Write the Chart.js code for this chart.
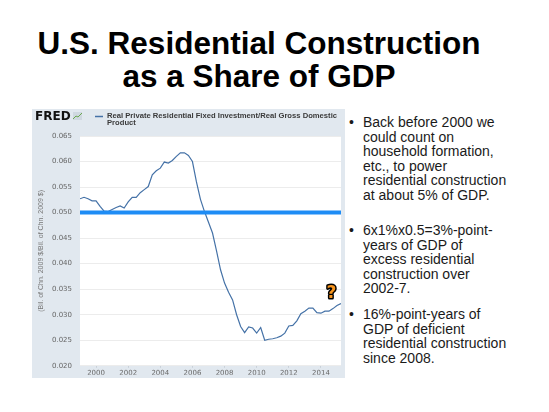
<!DOCTYPE html>
<html>
<head>
<meta charset="utf-8">
<script src="https://cdn.jsdelivr.net/npm/chart.js@4.4.1/dist/chart.umd.min.js"></script>
<style>
  html, body { margin: 0; padding: 0; background: #fff; }
  body { width: 549px; height: 412px; position: relative; overflow: hidden;
         font-family: "Liberation Sans", Arial, Helvetica, sans-serif; }
  .title { position: absolute; left: 0; width: 518px; text-align: center;
           font-weight: bold; font-size: 31.5px; line-height: 33px; color: #000;
           white-space: nowrap; }
  .bullet { position: absolute; left: 349px; font-size: 14px; line-height: 14.6px;
            color: #1a1a1a; white-space: nowrap; }
  .bullet .dot { position: absolute; left: 0; top: 0; }
  .bullet .txt { position: absolute; left: 14px; top: 0; }
  #frame { position: absolute; left: 32px; top: 109px; width: 313px; height: 269px; }
</style>
</head>
<body>
<div class="title" style="top:27px">U.S. Residential Construction</div>
<div class="title" style="top:60px">as a Share of GDP</div>

<div class="bullet" style="top:115px"><span class="dot">•</span><span class="txt">Back before 2000 we<br>could count on<br>household formation,<br>etc., to power<br>residential construction<br>at about 5% of GDP.</span></div>
<div class="bullet" style="top:223px"><span class="dot">•</span><span class="txt">6x1%x0.5=3%-point-<br>years of GDP of<br>excess residential<br>construction over<br>2002-7.</span></div>
<div class="bullet" style="top:307px"><span class="dot">•</span><span class="txt">16%-point-years of<br>GDP of deficient<br>residential construction<br>since 2008.</span></div>

<div id="frame"><canvas id="chart"></canvas></div>

<script>
// Quarterly series, 1999 Q1 .. 2015 Q2
const startYear = 1999;
const share1999to2002 = [0.0527, 0.0530, 0.0527, 0.0523, 0.0523, 0.0512, 0.0503, 0.0502,
                         0.0506, 0.0510, 0.0513, 0.0509, 0.0521, 0.0530, 0.0530, 0.0539];
const share2003to2006 = [0.0545, 0.0551, 0.0574, 0.0582, 0.0587, 0.0599, 0.0597, 0.0602,
                         0.0610, 0.0617, 0.0617, 0.0612, 0.0600, 0.0560, 0.0526, 0.0502];
const share2007to2010 = [0.0481, 0.0460, 0.0425, 0.0388, 0.0362, 0.0344, 0.0329, 0.0300,
                         0.0277, 0.0265, 0.0276, 0.0274, 0.0264, 0.0275, 0.0250, 0.0252];
const share2011to2015 = [0.0253, 0.0255, 0.0258, 0.0264, 0.0278, 0.0279, 0.0288, 0.0302,
                         0.0307, 0.0313, 0.0313, 0.0304, 0.0303, 0.0307, 0.0307, 0.0312,
                         0.0318, 0.0322];
const shareValues = [...share1999to2002, ...share2003to2006, ...share2007to2010, ...share2011to2015];

const benchmarkYears = [1999, 2015.25];
const benchmarkValues = [0.050, 0.050];

const xTickYears = [2000, 2002, 2004, 2006, 2008, 2010, 2012, 2014];
const yTickValues = [0.020, 0.025, 0.030, 0.035, 0.040, 0.045, 0.050, 0.055, 0.060, 0.065];

const seriesLabel = ['Real Private Residential Fixed Investment/Real Gross Domestic', 'Product'];
const yAxisTitle = '(Bil. of Chn. 2009 $/Bil. of Chn. 2009 $)';
const questionMark = { x: 2014.65, y: 0.0342 };

const shareData = shareValues.map((v, i) => ({ x: startYear + i / 4, y: v }));
const benchmarkData = benchmarkYears.map((yr, i) => ({ x: yr, y: benchmarkValues[i] }));

// FRED-style frame: grey-blue background, white plot, logo, legend, "?" marker
const fredFrame = {
    id: 'fredFrame',
    beforeDraw(chart) {
        const { ctx, chartArea: a } = chart;
        ctx.save();
        ctx.fillStyle = '#e1e8ef';
        ctx.fillRect(0, 0, chart.width, chart.height);
        ctx.fillStyle = '#ffffff';
        ctx.fillRect(a.left, a.top, a.right - a.left, a.bottom - a.top);
        ctx.restore();
    },
    afterDraw(chart) {
        const { ctx, scales } = chart;
        ctx.save();
        // logo
        ctx.fillStyle = '#111';
        ctx.font = '900 12px "DejaVu Sans", sans-serif';
        ctx.textBaseline = 'middle';
        ctx.textAlign = 'left';
        ctx.fillText('FRED', 3, 8, 36);
        // tiny graph icon
        ctx.fillStyle = '#cfd8e0';
        ctx.fillRect(41, 3, 9, 8);
        ctx.strokeStyle = '#6aa84f';
        ctx.lineWidth = 1;
        ctx.beginPath();
        ctx.moveTo(41, 10); ctx.lineTo(44, 7); ctx.lineTo(46, 8); ctx.lineTo(50, 4);
        ctx.stroke();
        // legend
        ctx.strokeStyle = '#4572a7';
        ctx.lineWidth = 1.5;
        ctx.beginPath();
        ctx.moveTo(63, 7.5); ctx.lineTo(71, 7.5);
        ctx.stroke();
        ctx.fillStyle = '#3a3a3a';
        ctx.font = 'bold 7px "Liberation Sans", Arial, sans-serif';
        const sx = 230 / ctx.measureText(seriesLabel[0]).width;
        ctx.save();
        ctx.translate(75, 0);
        ctx.scale(sx, 1);
        ctx.fillText(seriesLabel[0], 0, 7);
        ctx.fillText(seriesLabel[1], 0, 14);
        ctx.restore();
        // y axis title
        ctx.translate(9, (chart.chartArea.top + chart.chartArea.bottom) / 2);
        ctx.rotate(-Math.PI / 2);
        ctx.textAlign = 'center';
        ctx.fillStyle = '#777';
        ctx.font = '7px "Liberation Sans", Arial, sans-serif';
        ctx.fillText(yAxisTitle, 0, 0);
        ctx.restore();
        // question mark
        ctx.save();
        const qx = scales.x.getPixelForValue(questionMark.x);
        const qy = scales.y.getPixelForValue(questionMark.y);
        ctx.font = 'bold 17px "DejaVu Sans", sans-serif';
        ctx.textAlign = 'center';
        ctx.textBaseline = 'middle';
        ctx.lineJoin = 'round';
        ctx.lineWidth = 3;
        ctx.strokeStyle = '#000';
        ctx.strokeText('?', qx, qy);
        ctx.fillStyle = '#f7941d';
        ctx.fillText('?', qx, qy);
        ctx.restore();
    }
};

new Chart(document.getElementById('chart'), {
    type: 'line',
    plugins: [fredFrame],
    data: {
        datasets: [{
            label: '5% benchmark',
            data: benchmarkData,
            borderColor: '#1e8cf5',
            borderWidth: 4,
            pointRadius: 0,
            clip: false
        }, {
            label: seriesLabel.join(' '),
            data: shareData,
            borderColor: '#4572a7',
            borderWidth: 1.2,
            pointRadius: 0,
            tension: 0
        }]
    },
    options: {
        responsive: true,
        maintainAspectRatio: false,
        animation: false,
        layout: { padding: { top: 27, right: 4, left: 0, bottom: 0 } },
        plugins: {
            legend: { display: false },
            tooltip: { enabled: false }
        },
        scales: {
            x: {
                type: 'linear',
                min: 1999,
                max: 2015.25,
                afterBuildTicks: (scale) => { scale.ticks = xTickYears.map(v => ({ value: v })); },
                afterFit: (scale) => { scale.height = 9; },
                ticks: {
                    color: '#666',
                    font: { family: '"DejaVu Sans", sans-serif', size: 7 },
                    padding: 1,
                    maxRotation: 0,
                    callback: (v) => String(v)
                },
                grid: { drawOnChartArea: false, drawTicks: true, tickLength: 2, color: '#c8d0d8' },
                border: { display: false }
            },
            y: {
                min: 0.020,
                max: 0.065,
                afterBuildTicks: (scale) => { scale.ticks = yTickValues.map(v => ({ value: v })); },
                afterFit: (scale) => { scale.width = 48; },
                ticks: {
                    color: '#666',
                    font: { family: '"DejaVu Sans", sans-serif', size: 7 },
                    padding: 8,
                    callback: (v) => v.toFixed(3)
                },
                grid: { color: '#ececec', drawTicks: false },
                border: { display: false }
            }
        }
    }
});
</script>
</body>
</html>
